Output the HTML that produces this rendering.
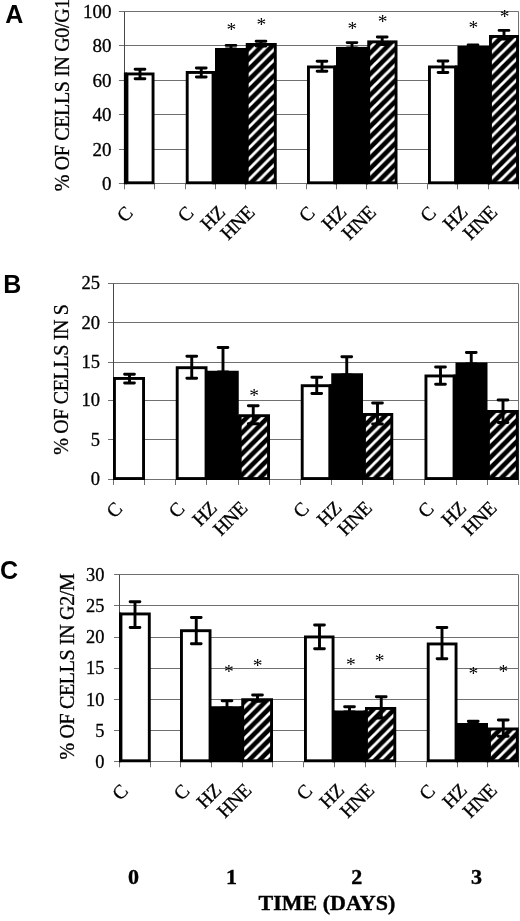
<!DOCTYPE html>
<html><head><meta charset="utf-8"><title>Figure</title>
<style>
html,body{margin:0;padding:0;background:#fff}
svg{display:block}
.t{font-family:"Liberation Serif",serif;font-size:19px;fill:#000;stroke:#000;stroke-width:.3px}
.s{font-family:"Liberation Serif",serif;font-size:19.5px;fill:#000}
.y{font-family:"Liberation Serif",serif;font-size:20px;letter-spacing:-0.35px;fill:#000;stroke:#000;stroke-width:.3px}
.c{font-family:"Liberation Serif",serif;font-size:19.5px;letter-spacing:-0.4px;fill:#000;stroke:#000;stroke-width:.3px}
.p{font-family:"Liberation Sans",sans-serif;font-weight:bold;font-size:25px;fill:#000}
.b{font-family:"Liberation Serif",serif;font-weight:bold;font-size:22px;fill:#000;stroke:#000;stroke-width:.4px}
</style></head><body>
<svg width="520" height="921" viewBox="0 0 520 921">
<defs>
<pattern id="hA" patternUnits="userSpaceOnUse" width="10.5" height="10.5" patternTransform="translate(8.5 0)"><rect width="10.5" height="10.5" fill="#000"/><path d="M-2 2L2 -2M-2 12.5L12.5 -2M8.5 12.5L12.5 8.5" stroke="#fff" stroke-width="2.8"/></pattern>
<pattern id="hB" patternUnits="userSpaceOnUse" width="10.5" height="10.5" patternTransform="translate(8.1 0)"><rect width="10.5" height="10.5" fill="#000"/><path d="M-2 2L2 -2M-2 12.5L12.5 -2M8.5 12.5L12.5 8.5" stroke="#fff" stroke-width="2.8"/></pattern>
<pattern id="hC" patternUnits="userSpaceOnUse" width="10.5" height="10.5" patternTransform="translate(6.4 0)"><rect width="10.5" height="10.5" fill="#000"/><path d="M-2 2L2 -2M-2 12.5L12.5 -2M8.5 12.5L12.5 8.5" stroke="#fff" stroke-width="2.8"/></pattern>
</defs>
<rect width="520" height="921" fill="#fff"/>

<line x1="118.9" y1="183.5" x2="518.6" y2="183.5" stroke="#707070" stroke-width="1"/>
<text x="111.5" y="189.95" text-anchor="end" class="t" style="font-size:19px">0</text>
<line x1="118.9" y1="149.5" x2="518.6" y2="149.5" stroke="#707070" stroke-width="1"/>
<text x="111.5" y="155.50" text-anchor="end" class="t" style="font-size:19px">20</text>
<line x1="118.9" y1="114.5" x2="518.6" y2="114.5" stroke="#707070" stroke-width="1"/>
<text x="111.5" y="121.05" text-anchor="end" class="t" style="font-size:19px">40</text>
<line x1="118.9" y1="80.5" x2="518.6" y2="80.5" stroke="#707070" stroke-width="1"/>
<text x="111.5" y="86.60" text-anchor="end" class="t" style="font-size:19px">60</text>
<line x1="118.9" y1="45.5" x2="518.6" y2="45.5" stroke="#707070" stroke-width="1"/>
<text x="111.5" y="52.15" text-anchor="end" class="t" style="font-size:19px">80</text>
<line x1="118.9" y1="11.5" x2="518.6" y2="11.5" stroke="#707070" stroke-width="1"/>
<text x="111.5" y="17.70" text-anchor="end" class="t" style="font-size:19px">100</text>
<line x1="124.5" y1="11.5" x2="124.5" y2="183.75" stroke="#484848" stroke-width="1"/>
<line x1="518.5" y1="11.5" x2="518.5" y2="183.75" stroke="#707070" stroke-width="1"/>
<line x1="124.5" y1="183.75" x2="124.5" y2="189.25" stroke="#707070" stroke-width="1"/>
<line x1="154.5" y1="183.75" x2="154.5" y2="189.25" stroke="#707070" stroke-width="1"/>
<line x1="185.5" y1="183.75" x2="185.5" y2="189.25" stroke="#707070" stroke-width="1"/>
<line x1="215.5" y1="183.75" x2="215.5" y2="189.25" stroke="#707070" stroke-width="1"/>
<line x1="245.5" y1="183.75" x2="245.5" y2="189.25" stroke="#707070" stroke-width="1"/>
<line x1="276.5" y1="183.75" x2="276.5" y2="189.25" stroke="#707070" stroke-width="1"/>
<line x1="306.5" y1="183.75" x2="306.5" y2="189.25" stroke="#707070" stroke-width="1"/>
<line x1="336.5" y1="183.75" x2="336.5" y2="189.25" stroke="#707070" stroke-width="1"/>
<line x1="366.5" y1="183.75" x2="366.5" y2="189.25" stroke="#707070" stroke-width="1"/>
<line x1="397.5" y1="183.75" x2="397.5" y2="189.25" stroke="#707070" stroke-width="1"/>
<line x1="427.5" y1="183.75" x2="427.5" y2="189.25" stroke="#707070" stroke-width="1"/>
<line x1="457.5" y1="183.75" x2="457.5" y2="189.25" stroke="#707070" stroke-width="1"/>
<line x1="488.5" y1="183.75" x2="488.5" y2="189.25" stroke="#707070" stroke-width="1"/>
<line x1="518.5" y1="183.75" x2="518.5" y2="189.25" stroke="#707070" stroke-width="1"/>
<rect x="126.95" y="73.95" width="26.1" height="108.85" fill="#fff" stroke="#000" stroke-width="2.9"/>
<rect x="123.9" y="72.5" width="3.0999999999999943" height="111.75" fill="#000"/>
<rect x="187.2" y="72.45" width="25.85" height="110.35" fill="#fff" stroke="#000" stroke-width="2.9"/>
<rect x="215" y="48" width="32.50" height="136.25" fill="#000"/>
<rect x="212.5" y="71" width="3.25" height="113.25" fill="#000"/>
<rect x="244.25" y="48" width="2.5" height="136.25" fill="#000"/>
<rect x="247.2" y="44.45" width="28.1" height="138.35" fill="url(#hA)" stroke="#000" stroke-width="2.9"/>
<rect x="308.45" y="66.95" width="26.1" height="115.85" fill="#fff" stroke="#000" stroke-width="2.9"/>
<rect x="336" y="46.9" width="32.00" height="137.35" fill="#000"/>
<rect x="334" y="65.5" width="2.75" height="118.75" fill="#000"/>
<rect x="365.75" y="46.9" width="2.5" height="137.35" fill="#000"/>
<rect x="368.7" y="41.85" width="27.35" height="140.95" fill="url(#hA)" stroke="#000" stroke-width="2.9"/>
<rect x="429.45" y="66.95" width="26.1" height="115.85" fill="#fff" stroke="#000" stroke-width="2.9"/>
<rect x="457.5" y="46" width="32.50" height="138.25" fill="#000"/>
<rect x="455" y="65.5" width="3.25" height="118.75" fill="#000"/>
<rect x="487.5" y="46" width="2.5" height="138.25" fill="#000"/>
<rect x="490.45" y="36.45" width="27.1" height="146.35" fill="url(#hA)" stroke="#000" stroke-width="2.9"/>
<path d="M135.1 69.25H144.9M140 69.25V78.75M135.1 78.75H144.9" stroke="#000" stroke-width="2.9" stroke-linecap="round" fill="none"/>
<path d="M196.35 68H206.15M201.25 68V77M196.35 77H206.15" stroke="#000" stroke-width="2.9" stroke-linecap="round" fill="none"/>
<path d="M226.1 45.4H235.9M231 45.4V49M226.1 49H235.9" stroke="#000" stroke-width="2.9" stroke-linecap="round" fill="none"/>
<path d="M256.1 41.25H265.9M261 41.25V46M256.1 46H265.9" stroke="#000" stroke-width="2.9" stroke-linecap="round" fill="none"/>
<path d="M317.1 61.25H326.9M322 61.25V71.25M317.1 71.25H326.9" stroke="#000" stroke-width="2.9" stroke-linecap="round" fill="none"/>
<path d="M347.1 42.6H356.9M352 42.6V48M347.1 48H356.9" stroke="#000" stroke-width="2.9" stroke-linecap="round" fill="none"/>
<path d="M377.3 37H387.09999999999997M382.2 37V44.5M377.3 44.5H387.09999999999997" stroke="#000" stroke-width="2.9" stroke-linecap="round" fill="none"/>
<path d="M438.1 61H447.9M443 61V72.5M438.1 72.5H447.9" stroke="#000" stroke-width="2.9" stroke-linecap="round" fill="none"/>
<path d="M468.1 44.9H477.9M473 44.9V46M468.1 46H477.9" stroke="#000" stroke-width="2.9" stroke-linecap="round" fill="none"/>
<path d="M499.1 30.4H508.9M504 30.4V39M499.1 39H508.9" stroke="#000" stroke-width="2.9" stroke-linecap="round" fill="none"/>
<text x="231.25" y="35.95" text-anchor="middle" class="s">*</text>
<text x="261.25" y="30.95" text-anchor="middle" class="s">*</text>
<text x="352.4" y="34.75" text-anchor="middle" class="s">*</text>
<text x="382.5" y="28.15" text-anchor="middle" class="s">*</text>
<text x="473.3" y="33.55" text-anchor="middle" class="s">*</text>
<text x="504.5" y="22.70" text-anchor="middle" class="s">*</text>
<text transform="translate(69.2,191.3) rotate(-90)" class="y">% OF CELLS IN G0/G1</text>
<text x="5.2" y="22.9" class="p">A</text>
<text transform="translate(133.66,214.45) rotate(-45)" text-anchor="end" class="c">C</text>
<text transform="translate(194.31,214.45) rotate(-45)" text-anchor="end" class="c">C</text>
<text transform="translate(226.03,213.60) rotate(-45)" text-anchor="end" class="c">HZ</text>
<text transform="translate(255.65,213.60) rotate(-45)" text-anchor="end" class="c">HNE</text>
<text transform="translate(315.60,214.45) rotate(-45)" text-anchor="end" class="c">C</text>
<text transform="translate(347.32,213.60) rotate(-45)" text-anchor="end" class="c">HZ</text>
<text transform="translate(376.95,213.60) rotate(-45)" text-anchor="end" class="c">HNE</text>
<text transform="translate(436.89,214.45) rotate(-45)" text-anchor="end" class="c">C</text>
<text transform="translate(468.62,213.60) rotate(-45)" text-anchor="end" class="c">HZ</text>
<text transform="translate(498.24,213.60) rotate(-45)" text-anchor="end" class="c">HNE</text>
<line x1="108.0" y1="479.5" x2="518.3" y2="479.5" stroke="#707070" stroke-width="1"/>
<text x="99.9" y="485.30" text-anchor="end" class="t" style="font-size:18.5px">0</text>
<line x1="108.0" y1="439.5" x2="518.3" y2="439.5" stroke="#707070" stroke-width="1"/>
<text x="99.9" y="445.70" text-anchor="end" class="t" style="font-size:18.5px">5</text>
<line x1="108.0" y1="400.5" x2="518.3" y2="400.5" stroke="#707070" stroke-width="1"/>
<text x="99.9" y="406.20" text-anchor="end" class="t" style="font-size:18.5px">10</text>
<line x1="108.0" y1="362.5" x2="518.3" y2="362.5" stroke="#707070" stroke-width="1"/>
<text x="99.9" y="368.10" text-anchor="end" class="t" style="font-size:18.5px">15</text>
<line x1="108.0" y1="322.5" x2="518.3" y2="322.5" stroke="#707070" stroke-width="1"/>
<text x="99.9" y="328.70" text-anchor="end" class="t" style="font-size:18.5px">20</text>
<line x1="108.0" y1="283.5" x2="518.3" y2="283.5" stroke="#707070" stroke-width="1"/>
<text x="99.9" y="289.30" text-anchor="end" class="t" style="font-size:18.5px">25</text>
<line x1="113.5" y1="283.5" x2="113.5" y2="479.5" stroke="#484848" stroke-width="1"/>
<line x1="518.5" y1="283.5" x2="518.5" y2="479.5" stroke="#707070" stroke-width="1"/>
<line x1="113.5" y1="479.5" x2="113.5" y2="485.0" stroke="#707070" stroke-width="1"/>
<line x1="144.5" y1="479.5" x2="144.5" y2="485.0" stroke="#707070" stroke-width="1"/>
<line x1="175.5" y1="479.5" x2="175.5" y2="485.0" stroke="#707070" stroke-width="1"/>
<line x1="206.5" y1="479.5" x2="206.5" y2="485.0" stroke="#707070" stroke-width="1"/>
<line x1="238.5" y1="479.5" x2="238.5" y2="485.0" stroke="#707070" stroke-width="1"/>
<line x1="269.5" y1="479.5" x2="269.5" y2="485.0" stroke="#707070" stroke-width="1"/>
<line x1="300.5" y1="479.5" x2="300.5" y2="485.0" stroke="#707070" stroke-width="1"/>
<line x1="331.5" y1="479.5" x2="331.5" y2="485.0" stroke="#707070" stroke-width="1"/>
<line x1="362.5" y1="479.5" x2="362.5" y2="485.0" stroke="#707070" stroke-width="1"/>
<line x1="393.5" y1="479.5" x2="393.5" y2="485.0" stroke="#707070" stroke-width="1"/>
<line x1="424.5" y1="479.5" x2="424.5" y2="485.0" stroke="#707070" stroke-width="1"/>
<line x1="456.5" y1="479.5" x2="456.5" y2="485.0" stroke="#707070" stroke-width="1"/>
<line x1="487.5" y1="479.5" x2="487.5" y2="485.0" stroke="#707070" stroke-width="1"/>
<line x1="518.5" y1="479.5" x2="518.5" y2="485.0" stroke="#707070" stroke-width="1"/>
<rect x="114.45" y="378.45" width="29.1" height="100.10" fill="#fff" stroke="#000" stroke-width="2.9"/>
<rect x="113.0" y="377" width="1.5" height="103.00" fill="#000"/>
<rect x="177.2" y="367.7" width="28.85" height="110.85" fill="#fff" stroke="#000" stroke-width="2.9"/>
<rect x="207" y="370.75" width="31.75" height="109.25" fill="#000"/>
<rect x="205.5" y="370.75" width="2.25" height="109.25" fill="#000"/>
<rect x="237.25" y="414.75" width="2.5" height="65.25" fill="#000"/>
<rect x="240.2" y="415.7" width="28.35" height="62.85" fill="url(#hB)" stroke="#000" stroke-width="2.9"/>
<rect x="302.2" y="385.7" width="27.6" height="92.85" fill="#fff" stroke="#000" stroke-width="2.9"/>
<rect x="331.25" y="373.25" width="31.75" height="106.75" fill="#000"/>
<rect x="329.25" y="384.25" width="2.75" height="95.75" fill="#000"/>
<rect x="361.5" y="413.5" width="2.5" height="66.50" fill="#000"/>
<rect x="364.45" y="414.45" width="27.35" height="64.10" fill="url(#hB)" stroke="#000" stroke-width="2.9"/>
<rect x="425.95" y="375.95" width="28.1" height="102.60" fill="#fff" stroke="#000" stroke-width="2.9"/>
<rect x="455.5" y="362.5" width="32.00" height="117.50" fill="#000"/>
<rect x="453.5" y="374.5" width="2.75" height="105.50" fill="#000"/>
<rect x="485.5" y="410.5" width="2.5" height="69.50" fill="#000"/>
<rect x="488.45" y="411.45" width="28.85" height="67.10" fill="url(#hB)" stroke="#000" stroke-width="2.9"/>
<path d="M124.6 374.25H134.4M129.5 374.25V383M124.6 383H134.4" stroke="#000" stroke-width="2.9" stroke-linecap="round" fill="none"/>
<path d="M186.85 356.25H196.65M191.75 356.25V378.25M186.85 378.25H196.65" stroke="#000" stroke-width="2.9" stroke-linecap="round" fill="none"/>
<path d="M218.1 347.5H227.9M223 347.5V372M218.1 372H227.9" stroke="#000" stroke-width="2.9" stroke-linecap="round" fill="none"/>
<path d="M248.35 405.75H258.15M253.25 405.75V423.75M248.35 423.75H258.15" stroke="#000" stroke-width="2.9" stroke-linecap="round" fill="none"/>
<path d="M311.85 377.25H321.65M316.75 377.25V393.5M311.85 393.5H321.65" stroke="#000" stroke-width="2.9" stroke-linecap="round" fill="none"/>
<path d="M341.85 356.75H351.65M346.75 356.75V375M341.85 375H351.65" stroke="#000" stroke-width="2.9" stroke-linecap="round" fill="none"/>
<path d="M372.6 403H382.4M377.5 403V424M372.6 424H382.4" stroke="#000" stroke-width="2.9" stroke-linecap="round" fill="none"/>
<path d="M435.6 367H445.4M440.5 367V384.25M435.6 384.25H445.4" stroke="#000" stroke-width="2.9" stroke-linecap="round" fill="none"/>
<path d="M466.35 352.5H476.15M471.25 352.5V364M466.35 364H476.15" stroke="#000" stroke-width="2.9" stroke-linecap="round" fill="none"/>
<path d="M498.1 400H507.9M503 400V422.5M498.1 422.5H507.9" stroke="#000" stroke-width="2.9" stroke-linecap="round" fill="none"/>
<text x="254" y="402.45" text-anchor="middle" class="s">*</text>
<text transform="translate(68,454.8) rotate(-90)" class="y">% OF CELLS IN S</text>
<text x="3.2" y="292.8" class="p">B</text>
<text transform="translate(123.17,510.20) rotate(-45)" text-anchor="end" class="c">C</text>
<text transform="translate(185.45,510.20) rotate(-45)" text-anchor="end" class="c">C</text>
<text transform="translate(217.98,509.35) rotate(-45)" text-anchor="end" class="c">HZ</text>
<text transform="translate(248.42,509.35) rotate(-45)" text-anchor="end" class="c">HNE</text>
<text transform="translate(310.00,510.20) rotate(-45)" text-anchor="end" class="c">C</text>
<text transform="translate(342.54,509.35) rotate(-45)" text-anchor="end" class="c">HZ</text>
<text transform="translate(372.98,509.35) rotate(-45)" text-anchor="end" class="c">HNE</text>
<text transform="translate(434.55,510.20) rotate(-45)" text-anchor="end" class="c">C</text>
<text transform="translate(467.09,509.35) rotate(-45)" text-anchor="end" class="c">HZ</text>
<text transform="translate(497.53,509.35) rotate(-45)" text-anchor="end" class="c">HNE</text>
<line x1="114.0" y1="761.5" x2="518.5" y2="761.5" stroke="#707070" stroke-width="1"/>
<text x="104.5" y="767.85" text-anchor="end" class="t" style="font-size:18.4px">0</text>
<line x1="114.0" y1="730.5" x2="518.5" y2="730.5" stroke="#707070" stroke-width="1"/>
<text x="104.5" y="736.68" text-anchor="end" class="t" style="font-size:18.4px">5</text>
<line x1="114.0" y1="699.5" x2="518.5" y2="699.5" stroke="#707070" stroke-width="1"/>
<text x="104.5" y="705.50" text-anchor="end" class="t" style="font-size:18.4px">10</text>
<line x1="114.0" y1="668.5" x2="518.5" y2="668.5" stroke="#707070" stroke-width="1"/>
<text x="104.5" y="674.33" text-anchor="end" class="t" style="font-size:18.4px">15</text>
<line x1="114.0" y1="637.5" x2="518.5" y2="637.5" stroke="#707070" stroke-width="1"/>
<text x="104.5" y="643.15" text-anchor="end" class="t" style="font-size:18.4px">20</text>
<line x1="114.0" y1="605.5" x2="518.5" y2="605.5" stroke="#707070" stroke-width="1"/>
<text x="104.5" y="611.98" text-anchor="end" class="t" style="font-size:18.4px">25</text>
<line x1="114.0" y1="574.5" x2="518.5" y2="574.5" stroke="#707070" stroke-width="1"/>
<text x="104.5" y="580.80" text-anchor="end" class="t" style="font-size:18.4px">30</text>
<line x1="119.5" y1="574.7" x2="119.5" y2="761.75" stroke="#484848" stroke-width="1"/>
<line x1="518.5" y1="574.7" x2="518.5" y2="761.75" stroke="#707070" stroke-width="1"/>
<line x1="119.5" y1="761.75" x2="119.5" y2="767.25" stroke="#707070" stroke-width="1"/>
<line x1="150.5" y1="761.75" x2="150.5" y2="767.25" stroke="#707070" stroke-width="1"/>
<line x1="180.5" y1="761.75" x2="180.5" y2="767.25" stroke="#707070" stroke-width="1"/>
<line x1="211.5" y1="761.75" x2="211.5" y2="767.25" stroke="#707070" stroke-width="1"/>
<line x1="242.5" y1="761.75" x2="242.5" y2="767.25" stroke="#707070" stroke-width="1"/>
<line x1="272.5" y1="761.75" x2="272.5" y2="767.25" stroke="#707070" stroke-width="1"/>
<line x1="303.5" y1="761.75" x2="303.5" y2="767.25" stroke="#707070" stroke-width="1"/>
<line x1="334.5" y1="761.75" x2="334.5" y2="767.25" stroke="#707070" stroke-width="1"/>
<line x1="365.5" y1="761.75" x2="365.5" y2="767.25" stroke="#707070" stroke-width="1"/>
<line x1="395.5" y1="761.75" x2="395.5" y2="767.25" stroke="#707070" stroke-width="1"/>
<line x1="426.5" y1="761.75" x2="426.5" y2="767.25" stroke="#707070" stroke-width="1"/>
<line x1="457.5" y1="761.75" x2="457.5" y2="767.25" stroke="#707070" stroke-width="1"/>
<line x1="487.5" y1="761.75" x2="487.5" y2="767.25" stroke="#707070" stroke-width="1"/>
<line x1="518.5" y1="761.75" x2="518.5" y2="767.25" stroke="#707070" stroke-width="1"/>
<rect x="120.95" y="613.95" width="28.35" height="146.85" fill="#fff" stroke="#000" stroke-width="2.9"/>
<rect x="119.0" y="612.5" width="2.0" height="149.75" fill="#000"/>
<rect x="181.45" y="630.7" width="28.6" height="130.10" fill="#fff" stroke="#000" stroke-width="2.9"/>
<rect x="210" y="706.25" width="31.25" height="56.00" fill="#000"/>
<rect x="209.5" y="706.25" width="1.25" height="56.00" fill="#000"/>
<rect x="239.75" y="706.25" width="2.5" height="56.00" fill="#000"/>
<rect x="242.7" y="699.7" width="28.85" height="61.10" fill="url(#hC)" stroke="#000" stroke-width="2.9"/>
<rect x="305.45" y="636.95" width="27.6" height="123.85" fill="#fff" stroke="#000" stroke-width="2.9"/>
<rect x="334.5" y="710.5" width="31.00" height="51.75" fill="#000"/>
<rect x="332.5" y="710.5" width="2.75" height="51.75" fill="#000"/>
<rect x="363.5" y="710.5" width="2.5" height="51.75" fill="#000"/>
<rect x="366.45" y="708.45" width="28.35" height="52.35" fill="url(#hC)" stroke="#000" stroke-width="2.9"/>
<rect x="428.2" y="643.95" width="27.85" height="116.85" fill="#fff" stroke="#000" stroke-width="2.9"/>
<rect x="457" y="723" width="31.00" height="39.25" fill="#000"/>
<rect x="455.5" y="723" width="2.25" height="39.25" fill="#000"/>
<rect x="486.5" y="728.0" width="2.5" height="34.25" fill="#000"/>
<rect x="489.45" y="728.95" width="27.85" height="31.85" fill="url(#hC)" stroke="#000" stroke-width="2.9"/>
<path d="M130.1 601.75H139.9M135 601.75V627.5M130.1 627.5H139.9" stroke="#000" stroke-width="2.9" stroke-linecap="round" fill="none"/>
<path d="M191.35 617.5H201.15M196.25 617.5V643.75M191.35 643.75H201.15" stroke="#000" stroke-width="2.9" stroke-linecap="round" fill="none"/>
<path d="M222.1 700.75H231.9M227 700.75V708M222.1 708H231.9" stroke="#000" stroke-width="2.9" stroke-linecap="round" fill="none"/>
<path d="M252.6 695H262.4M257.5 695V701.25M252.6 701.25H262.4" stroke="#000" stroke-width="2.9" stroke-linecap="round" fill="none"/>
<path d="M314.6 625H324.4M319.5 625V648.75M314.6 648.75H324.4" stroke="#000" stroke-width="2.9" stroke-linecap="round" fill="none"/>
<path d="M344.6 706.75H354.4M349.5 706.75V712M344.6 712H354.4" stroke="#000" stroke-width="2.9" stroke-linecap="round" fill="none"/>
<path d="M376.35 696.75H386.15M381.25 696.75V718M376.35 718H386.15" stroke="#000" stroke-width="2.9" stroke-linecap="round" fill="none"/>
<path d="M437.1 627.5H446.9M442 627.5V658.75M437.1 658.75H446.9" stroke="#000" stroke-width="2.9" stroke-linecap="round" fill="none"/>
<path d="M468.35 721.25H478.15M473.25 721.25V724M468.35 724H478.15" stroke="#000" stroke-width="2.9" stroke-linecap="round" fill="none"/>
<path d="M498.35 720H508.15M503.25 720V736.25M498.35 736.25H508.15" stroke="#000" stroke-width="2.9" stroke-linecap="round" fill="none"/>
<text x="228.75" y="678.45" text-anchor="middle" class="s">*</text>
<text x="257.5" y="671.95" text-anchor="middle" class="s">*</text>
<text x="350.75" y="671.45" text-anchor="middle" class="s">*</text>
<text x="379.5" y="667.20" text-anchor="middle" class="s">*</text>
<text x="473.25" y="680.20" text-anchor="middle" class="s">*</text>
<text x="503.25" y="678.20" text-anchor="middle" class="s">*</text>
<text transform="translate(73.8,759.5) rotate(-90)" class="y">% OF CELLS IN G2/M</text>
<text x="0" y="579" class="p">C</text>
<text transform="translate(128.95,792.45) rotate(-45)" text-anchor="end" class="c">C</text>
<text transform="translate(190.33,792.45) rotate(-45)" text-anchor="end" class="c">C</text>
<text transform="translate(222.42,791.60) rotate(-45)" text-anchor="end" class="c">HZ</text>
<text transform="translate(252.42,791.60) rotate(-45)" text-anchor="end" class="c">HNE</text>
<text transform="translate(313.10,792.45) rotate(-45)" text-anchor="end" class="c">C</text>
<text transform="translate(345.19,791.60) rotate(-45)" text-anchor="end" class="c">HZ</text>
<text transform="translate(375.18,791.60) rotate(-45)" text-anchor="end" class="c">HNE</text>
<text transform="translate(435.87,792.45) rotate(-45)" text-anchor="end" class="c">C</text>
<text transform="translate(467.96,791.60) rotate(-45)" text-anchor="end" class="c">HZ</text>
<text transform="translate(497.95,791.60) rotate(-45)" text-anchor="end" class="c">HNE</text>
<text x="133.6" y="883.5" text-anchor="middle" class="b">0</text>
<text x="231.4" y="883.5" text-anchor="middle" class="b">1</text>
<text x="356.75" y="883.5" text-anchor="middle" class="b">2</text>
<text x="476.5" y="883.5" text-anchor="middle" class="b">3</text>
<text x="326.9" y="909.5" text-anchor="middle" class="b">TIME (DAYS)</text>
</svg></body></html>
